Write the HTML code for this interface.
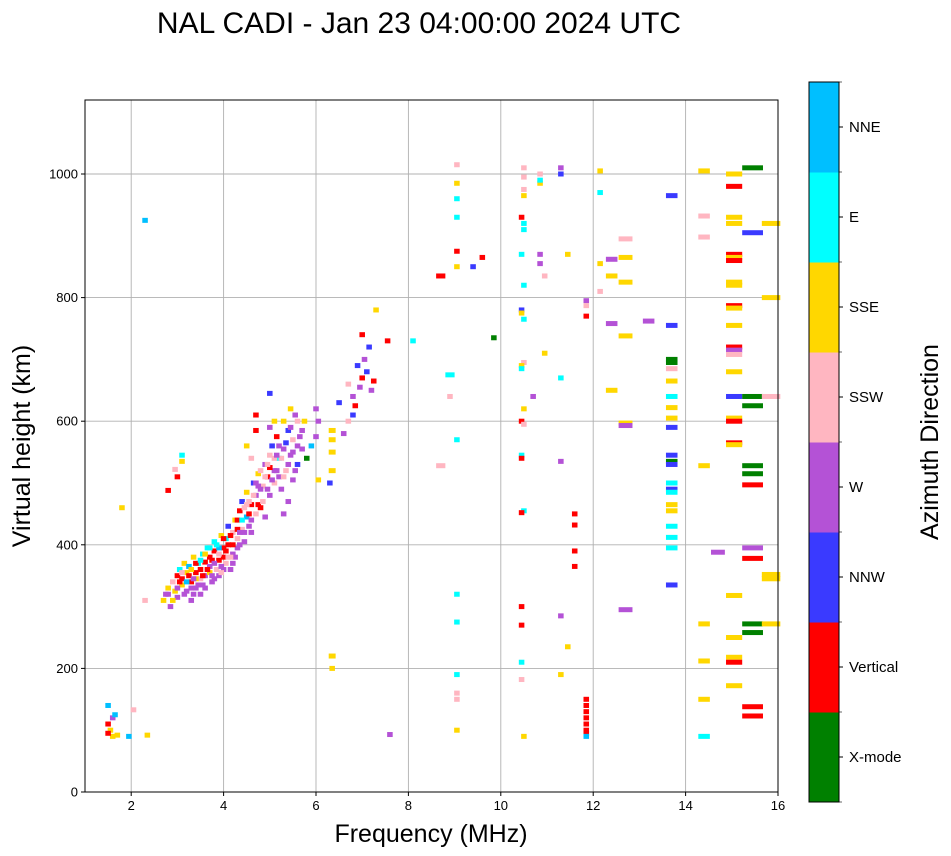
<!DOCTYPE html>
<html><head><meta charset="utf-8"><style>
body{margin:0;background:#fff;}
svg{display:block;font-family:"Liberation Sans","DejaVu Sans",sans-serif;}
</style></head><body>
<svg id="chart" width="951" height="856" viewBox="0 0 951 856" xmlns="http://www.w3.org/2000/svg">
<text x="419" y="33" font-size="30" text-anchor="middle">NAL CADI - Jan 23 04:00:00 2024 UTC</text>
<g id="grid"></g>
<g id="marks"></g>
<rect x="85" y="100" width="693" height="692" fill="none" stroke="#000" stroke-width="1"/>
<g id="axes"></g>
<text x="431" y="842" font-size="25" text-anchor="middle">Frequency (MHz)</text>
<text transform="translate(30,446) rotate(-90)" font-size="25" text-anchor="middle">Virtual height (km)</text>
<g id="cbar"></g>
<text transform="translate(938,442) rotate(-90)" font-size="25" text-anchor="middle">Azimuth Direction</text>
</svg>
<script>
const categories = ["X-mode","Vertical","NNW","W","SSW","SSE","E","NNE"];
const catColors = ["#008000","#ff0000","#3a3aff","#b452d6","#ffb6c1","#ffd700","#00ffff","#00bfff"];
const xTicks = [2,4,6,8,10,12,14,16];
const yTicks = [0,200,400,600,800,1000];
// [frequency MHz, virtual height km, category index, freq span MHz]
const points = [
[2.7,310,5],[2.75,320,3],[2.8,330,5],[2.85,300,3],[2.9,340,4],[2.95,325,5],[3.0,350,1],[3.0,315,3],[3.05,360,6],[3.1,335,5],[3.1,345,1],[3.15,370,5],[3.2,325,3],[3.2,355,5],[3.25,365,7],[3.3,340,1],[3.3,310,3],[3.35,380,5],[3.4,355,1],[3.4,330,3],[3.45,370,6],[3.5,360,1],[3.5,345,4],[3.55,385,6],[3.6,350,3],[3.6,372,1],[3.65,395,6],[3.7,365,3],[3.7,380,1],[3.75,340,3],[3.8,405,6],[3.8,390,1],[3.85,360,4],[3.9,375,1],[3.9,350,3],[3.95,415,5],[4.0,395,1],[4.0,380,1],[4.05,370,4],[4.05,410,6],[4.1,400,1],[4.1,430,2],[4.15,360,3],[4.2,420,4],[4.2,385,3],[4.25,440,5],[4.3,410,4],[4.3,395,3],[4.35,455,1],[4.4,425,4],[4.4,470,2],[4.45,405,3],[4.5,445,7],[4.5,485,5],[4.55,430,3],[4.6,465,1],[4.6,420,3],[4.65,500,2],[4.7,450,4],[4.7,480,3],[4.75,515,5],[4.8,460,1],[4.85,495,4],[4.9,530,3],[4.9,445,3],[4.95,510,1],[5.0,545,4],[5.0,480,3],[5.05,560,2],[5.1,520,3],[5.1,500,4],[5.15,575,1],[5.2,540,6],[5.25,490,3],[5.3,555,3],[5.3,600,5],[5.35,520,4],[5.4,585,2],[5.4,470,3],[5.45,545,3],[5.5,570,4],[5.5,505,3],[5.55,610,3],[5.6,530,2],[5.7,585,3],[5.8,540,0],[5.9,560,7],[6.0,575,3],[6.0,620,3],[6.05,600,3],
[3.3,330,3],[3.5,320,3],[3.6,330,3],[3.8,345,3],[4.0,360,3],[4.2,370,3],[3.4,345,5],[3.7,355,5],[3.9,395,7],[4.3,440,1],[4.45,460,4],[4.8,520,4],[5.2,510,3],[5.0,590,3],[4.6,540,4],[5.3,450,3],[5.6,560,3],
[2.8,320,3],[2.9,310,5],[3.0,330,3],[3.05,340,1],[3.1,355,4],[3.15,320,3],[3.2,340,7],[3.25,350,1],[3.3,360,5],[3.35,345,3],[3.4,370,1],[3.45,335,3],[3.5,375,6],[3.55,350,1],[3.6,385,5],[3.65,360,1],[3.7,395,6],[3.75,375,1],[3.8,370,3],[3.85,400,6],[3.9,385,4],[3.95,365,3],[4.0,410,1],[4.05,390,1],[4.1,380,4],[4.15,415,1],[4.2,400,1],[4.25,380,3],[4.3,425,1],[4.35,400,3],[4.4,440,6],[4.45,420,3],[4.5,465,4],[4.55,450,1],[4.6,440,3],[4.65,480,4],[4.7,500,3],[4.75,465,1],[4.8,490,3],[4.85,470,4],[4.9,510,4],[4.95,490,3],[5.0,525,1],[5.05,505,3],[5.1,540,4],[5.15,520,3],[5.2,560,3],[5.25,540,4],[5.3,510,4],[5.35,565,2],[5.4,530,3],[5.45,590,3],[5.5,550,3],[5.55,520,3],[5.6,600,4],[5.65,575,3],[5.7,555,3],[5.75,600,5],[3.35,320,3],[3.55,335,3],[3.75,350,3],[3.95,355,4],[4.15,380,4],[4.35,420,3],[4.55,470,4],[4.75,495,3],[4.95,530,4],[5.15,545,3],
[6.35,585,5,0.15],[6.35,570,5,0.15],[6.35,550,5,0.15],[6.35,520,5,0.15],[6.5,630,2],[6.6,580,3],[6.7,600,4],[6.8,640,3],[6.8,610,2],[6.9,690,2],[6.95,655,3],[7.0,670,1],[7.05,700,3],[7.1,680,2],[7.15,720,2],[7.2,650,3],[7.25,665,1],[7.0,740,1],[7.3,780,5],[7.55,730,1],[6.7,660,4],[6.85,625,1],[6.3,500,2],[6.05,505,5],
[4.7,610,1],[4.7,585,1],[5.0,645,2],[5.1,600,5],[5.45,620,5],[4.5,560,5],[3.1,545,6],[3.1,535,5],[3.0,510,1],[2.95,522,4],[2.8,488,1],[2.3,925,7],[1.8,460,5],[2.3,310,4],[1.5,140,7],[1.5,110,1],[1.55,100,5],[1.6,120,3],[1.65,125,7],[1.6,90,5],[1.7,92,5],[1.95,90,7],[2.35,92,5],[2.05,133,4],[1.5,95,1],
[6.35,220,5,0.15],[6.35,200,5],[7.6,93,3],[8.1,730,6],[8.7,835,1,0.2],[8.7,528,4,0.2],[8.9,675,6,0.2],[8.9,640,4],
[9.05,1015,4],[9.05,985,5],[9.05,960,6],[9.05,930,6],[9.05,875,1],[9.05,850,5],[9.05,570,6],[9.05,320,6],[9.05,275,6],[9.05,190,6],[9.05,160,4],[9.05,150,4],[9.05,100,5],[9.4,850,2],[9.6,865,1],[9.85,735,0],
[10.45,930,1],[10.5,920,6],[10.5,910,6],[10.45,870,6],[10.5,820,6],[10.45,780,2],[10.45,775,5],[10.5,765,6],[10.5,695,4],[10.45,690,5],[10.45,685,6],[10.5,620,5],[10.45,600,1],[10.5,595,4],[10.45,545,6],[10.45,540,1],[10.5,455,6],[10.45,452,1],[10.45,300,1],[10.45,270,1],[10.45,210,6],[10.45,182,4],[10.5,90,5],[10.5,1010,4],[10.5,995,4],[10.5,975,4],[10.5,965,5],
[10.85,1000,4],[10.85,985,5],[10.85,990,6],[10.85,870,3],[10.85,855,3],[10.95,710,5],[10.7,640,3],[10.95,835,4],[11.3,1010,3],[11.3,1000,2],[11.3,670,6],[11.3,535,3],[11.3,285,3],[11.3,190,5],[11.45,870,5],[11.45,235,5],[11.6,450,1],[11.6,432,1],[11.6,390,1],[11.6,365,1],
[11.85,150,1],[11.85,140,1],[11.85,130,1],[11.85,120,1],[11.85,110,1],[11.85,100,1],[11.85,95,1],[11.85,90,7],[11.85,795,3],[11.85,787,4],[11.85,770,1],
[12.15,1005,5],[12.15,970,6],[12.15,855,5],[12.15,810,4],[12.4,862,3,0.25],[12.4,758,3,0.25],[12.4,835,5,0.25],[12.4,650,5,0.25],[12.7,865,5,0.3],[12.7,825,5,0.3],[12.7,738,5,0.3],[12.7,895,4,0.3],[12.7,597,5,0.3],[12.7,593,3,0.3],[12.7,295,3,0.3],[13.2,762,3,0.25],
[13.7,965,2,0.25],[13.7,755,2,0.25],[13.7,700,0,0.25],[13.7,695,0,0.25],[13.7,685,4,0.25],[13.7,665,5,0.25],[13.7,640,6,0.25],[13.7,622,5,0.25],[13.7,605,5,0.25],[13.7,590,2,0.25],[13.7,545,2,0.25],[13.7,535,0,0.25],[13.7,530,2,0.25],[13.7,500,6,0.25],[13.7,490,2,0.25],[13.7,485,6,0.25],[13.7,465,5,0.25],[13.7,455,5,0.25],[13.7,430,6,0.25],[13.7,412,6,0.25],[13.7,395,6,0.25],[13.7,335,2,0.25],
[14.4,1005,5,0.25],[14.4,932,4,0.25],[14.4,898,4,0.25],[14.4,528,5,0.25],[14.4,272,5,0.25],[14.4,212,5,0.25],[14.4,150,5,0.25],[14.4,90,6,0.25],[14.7,388,3,0.3],
[15.05,1000,5,0.35],[15.05,980,1,0.35],[15.05,930,5,0.35],[15.05,920,5,0.35],[15.05,870,1,0.35],[15.05,865,5,0.35],[15.05,860,1,0.35],[15.05,825,5,0.35],[15.05,820,5,0.35],[15.05,787,1,0.35],[15.05,783,5,0.35],[15.05,755,5,0.35],[15.05,720,1,0.35],[15.05,715,3,0.35],[15.05,708,4,0.35],[15.05,680,5,0.35],[15.05,640,2,0.35],[15.05,605,5,0.35],[15.05,600,1,0.35],[15.05,565,1,0.35],[15.05,562,5,0.35],[15.05,318,5,0.35],[15.05,250,5,0.35],[15.05,218,5,0.35],[15.05,210,1,0.35],[15.05,172,5,0.35],
[15.45,1010,0,0.45],[15.45,905,2,0.45],[15.45,640,0,0.45],[15.45,625,0,0.45],[15.45,528,0,0.45],[15.45,515,0,0.45],[15.45,497,1,0.45],[15.45,395,3,0.45],[15.45,378,1,0.45],[15.45,272,0,0.45],[15.45,258,0,0.45],[15.45,138,1,0.45],[15.45,123,1,0.45],
[15.85,920,5,0.4],[15.85,800,5,0.4],[15.85,640,4,0.4],[15.85,352,5,0.4],[15.85,345,5,0.4],[15.85,272,5,0.4]
];
const NS="http://www.w3.org/2000/svg";
const L=85,R=778,T=100,B=792;
function xs(f){return L+(f-1)/15*(R-L);}
function ys(h){return B-h*0.618;}
const grid=document.getElementById('grid'),axes=document.getElementById('axes'),marks=document.getElementById('marks'),cbar=document.getElementById('cbar');
function mk(tag,attrs,parent){const e=document.createElementNS(NS,tag);for(const k in attrs)e.setAttribute(k,attrs[k]);parent.appendChild(e);return e;}
xTicks.forEach(v=>{
  const x=xs(v);
  if(v<16){const g=mk('line',{x1:x,x2:x,y1:T,y2:B,stroke:'#b0b0b0','stroke-width':0.9},grid);
  
  }
  const t=mk('line',{x1:x,x2:x,y1:B,y2:B+4,stroke:'#000'},axes);
  
  
  const l=mk('text',{x:x,y:B+18,'font-size':13,'text-anchor':'middle'},axes);l.textContent=v;
  
  
});
yTicks.forEach(v=>{
  const y=ys(v);
  if(v>0){const g=mk('line',{x1:L,x2:R,y1:y,y2:y,stroke:'#b0b0b0','stroke-width':0.9},grid);
  
  }
  const t=mk('line',{x1:L-4,x2:L,y1:y,y2:y,stroke:'#000'},axes);
  
  
  const l=mk('text',{x:L-7,y:y+4.5,'font-size':13,'text-anchor':'end'},axes);l.textContent=v;
  
  
});
points.forEach(p=>{
  const span=p[3]||0.12;
  const x0=xs(p[0]-span/2),x1=xs(p[0]+span/2);
  const r=mk('rect',{x:x0,y:ys(p[1])-2.5,width:x1-x0,height:5,fill:catColors[p[2]]},marks);
  
  
});
const cbT=82,cbB=802,cbL=809,cbW=30,seg=(cbB-cbT)/categories.length;
categories.forEach((c,i)=>{
  const y=cbB-(i+1)*seg;
  const r=mk('rect',{x:cbL,y:y,width:cbW,height:seg+0.5,fill:catColors[i]},cbar);
  
  
  const t=mk('line',{x1:cbL+cbW,x2:cbL+cbW+4,y1:y+seg/2,y2:y+seg/2,stroke:'#000'},cbar);
  
  
  const l=mk('text',{x:cbL+cbW+10,y:y+seg/2+5,'font-size':15},cbar);l.textContent=c;
  
  
});
for(let i=0;i<=categories.length;i++){
  const y=cbB-i*seg;
  const t=mk('line',{x1:cbL+cbW,x2:cbL+cbW+3,y1:y,y2:y,stroke:'#000','stroke-width':0.6},cbar);
  
  
}
const f=mk('rect',{x:cbL,y:cbT,width:cbW,height:cbB-cbT,fill:'none',stroke:'#000'},cbar);


</script>
</body></html>
